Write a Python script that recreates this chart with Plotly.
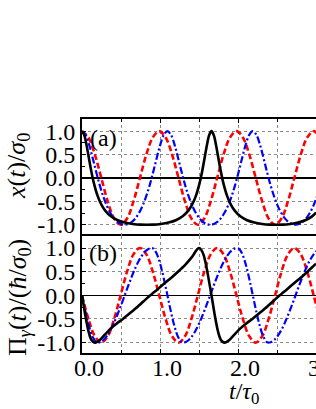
import plotly.graph_objects as go

# ---------------- data ----------------
# red dashed curve (harmonic), own time grid
t_red = [0, 0.0825, 0.165, 0.2475, 0.33, 0.4125, 0.495, 0.5775, 0.66, 0.7425, 0.825, 0.9075,
         0.99, 1.0725, 1.155, 1.2375, 1.32, 1.4025, 1.485, 1.5675, 1.65, 1.7325, 1.815, 1.8975,
         1.98, 2.0625, 2.145, 2.2275, 2.31, 2.3925, 2.475, 2.5575, 2.64, 2.7225, 2.805, 2.8875,
         2.97, 3.0525]
x_red = [1, 0.866, 0.5, 0, -0.5, -0.866, -1, -0.866, -0.5, 0, 0.5, 0.866,
         1, 0.866, 0.5, 0, -0.5, -0.866, -1, -0.866, -0.5, 0, 0.5, 0.866,
         1, 0.866, 0.5, 0, -0.5, -0.866, -1, -0.866, -0.5, 0, 0.5, 0.866,
         1, 0.866]
p_red = [0, -0.5, -0.866, -1, -0.866, -0.5, 0, 0.5, 0.866, 1, 0.866, 0.5,
         0, -0.5, -0.866, -1, -0.866, -0.5, 0, 0.5, 0.866, 1, 0.866, 0.5,
         0, -0.5, -0.866, -1, -0.866, -0.5, 0, 0.5, 0.866, 1, 0.866, 0.5,
         0, -0.5]

# blue dash-dot curve
t_blue = [0, 0.0456, 0.0913, 0.1369, 0.1825, 0.2281, 0.2738, 0.3194, 0.365, 0.4106, 0.4563, 0.5019,
          0.5475, 0.5931, 0.6388, 0.6844, 0.73, 0.7756, 0.8213, 0.8669, 0.9125, 0.9581, 1.0038, 1.0494,
          1.095, 1.1406, 1.1863, 1.2319, 1.2775, 1.3231, 1.3688, 1.4144, 1.46, 1.5056, 1.5513, 1.5969,
          1.6425, 1.6881, 1.7338, 1.7794, 1.825, 1.8706, 1.9163, 1.9619, 2.0075, 2.0531, 2.0988, 2.1444,
          2.19, 2.2356, 2.2813, 2.3269, 2.3725, 2.4181, 2.4638, 2.5094, 2.555, 2.6006, 2.6463, 2.6919,
          2.7375, 2.7831, 2.8288, 2.8744, 2.92, 2.9656, 3.0113]
x_blue = [1, 0.922, 0.713, 0.428, 0.125, -0.158, -0.4, -0.597, -0.75, -0.863, -0.94, -0.985,
          -1, -0.985, -0.94, -0.863, -0.75, -0.597, -0.4, -0.158, 0.125, 0.428, 0.713, 0.922,
          1, 0.922, 0.713, 0.428, 0.125, -0.158, -0.4, -0.597, -0.75, -0.863, -0.94, -0.985,
          -1, -0.985, -0.94, -0.863, -0.75, -0.597, -0.4, -0.158, 0.125, 0.428, 0.713, 0.922,
          1, 0.922, 0.713, 0.428, 0.125, -0.158, -0.4, -0.597, -0.75, -0.863, -0.94, -0.985,
          -1, -0.985, -0.94, -0.863, -0.75, -0.597, -0.4]
p_blue = [0, -0.35, -0.657, -0.88, -0.991, -0.992, -0.945, -0.857, -0.735, -0.581, -0.4, -0.204,
          0, 0.204, 0.4, 0.581, 0.735, 0.857, 0.945, 0.992, 0.991, 0.88, 0.657, 0.35,
          0, -0.35, -0.657, -0.88, -0.991, -0.992, -0.945, -0.857, -0.735, -0.581, -0.4, -0.204,
          0, 0.204, 0.4, 0.581, 0.735, 0.857, 0.945, 0.992, 0.991, 0.88, 0.657, 0.35,
          0, -0.35, -0.657, -0.88, -0.991, -0.992, -0.945, -0.857, -0.735, -0.581, -0.4, -0.204,
          0, 0.204, 0.4, 0.581, 0.735, 0.857, 0.945]

# black solid curve, panel (a)
t_black_x = [0, 0.03, 0.06, 0.09, 0.12, 0.15, 0.20, 0.25, 0.30, 0.37, 0.45, 0.55, 0.65, 0.75, 0.83,
             0.91, 1.01, 1.11, 1.21, 1.29, 1.36, 1.41, 1.46, 1.51, 1.54, 1.57, 1.60, 1.63, 1.66,
             1.69, 1.72, 1.75, 1.78, 1.81, 1.86, 1.91, 1.96, 2.03, 2.11, 2.21, 2.31, 2.41, 2.49,
             2.57, 2.67, 2.77, 2.87, 2.95, 3.0]
x_black = [1.0, 0.913, 0.689, 0.41, 0.139, -0.093, -0.382, -0.575, -0.703, -0.82, -0.897, -0.953, -0.982, -0.997, -1.0,
           -0.997, -0.982, -0.953, -0.897, -0.82, -0.703, -0.575, -0.382, -0.093, 0.139, 0.41, 0.689, 0.913, 1.0,
           0.913, 0.689, 0.41, 0.139, -0.093, -0.382, -0.575, -0.703, -0.82, -0.897, -0.953, -0.982, -0.997, -1.0,
           -0.997, -0.982, -0.953, -0.897, -0.82, -0.74]

# black solid curve, panel (b)
t_black_p = [0, 0.02, 0.04, 0.06, 0.08, 0.10, 0.12, 0.14, 0.17, 0.21, 0.25, 0.30, 0.37, 0.45, 0.525,
             0.62, 0.72, 0.82, 0.875, 0.97, 1.07, 1.17, 1.23, 1.32, 1.39, 1.43, 1.46, 1.50,
             1.53, 1.56, 1.58, 1.60, 1.62, 1.64, 1.66, 1.68, 1.70, 1.72, 1.74, 1.76, 1.78, 1.80, 1.83,
             1.87, 1.91, 1.96, 2.03, 2.11, 2.185, 2.28, 2.38, 2.48, 2.535, 2.63, 2.73, 2.83, 2.89, 2.98, 3.0]
p_black = [0, -0.20, -0.40, -0.58, -0.74, -0.86, -0.94, -0.98, -1.0, -0.97, -0.91, -0.82, -0.70, -0.59, -0.5,
           -0.37, -0.23, -0.08, 0, 0.13, 0.27, 0.41, 0.5, 0.64, 0.77, 0.86, 0.94, 1.0,
           0.96, 0.85, 0.72, 0.56, 0.38, 0.19, 0, -0.20, -0.40, -0.58, -0.74, -0.86, -0.94, -0.98, -1.0,
           -0.97, -0.91, -0.82, -0.70, -0.59, -0.5, -0.37, -0.23, -0.08, 0, 0.13, 0.27, 0.41, 0.5, 0.64, 0.67]

y_tickvals = [-1.0, -0.5, 0.0, 0.5, 1.0]
y_ticktext = ["-1.0", "-0.5", "0.0", "0.5", "1.0"]
x_tickvals = [0, 1, 2, 3]
x_ticktext = ["0.0", "1.0", "2.0", "3.0"]

# ---------------- figure ----------------
W, H = 316, 409
ML, MR, MT, MB = 82, 0, 119, 56
PW, PH = W - ML - MR, H - MT - MB
FONT = "Liberation Serif, Times New Roman, serif"
FS_TICK = 24
FS_TITLE = 26

def px(xp):
    return (xp - ML) / PW

def py(yp):
    return 1 - (yp - MT) / PH

RED = "#ff0000"
BLUE = "#0000ff"
BLACK = "#000000"
GRIDC = "#8a8a8a"

fig = go.Figure()
# panel (a): xaxis2 / yaxis2
fig.add_trace(go.Scatter(x=t_red, y=x_red, mode="lines", xaxis="x2", yaxis="y2",
                         line=dict(color=RED, width=2.6, dash="6px,3px", shape="spline", smoothing=1)))
fig.add_trace(go.Scatter(x=t_blue, y=x_blue, mode="lines", xaxis="x2", yaxis="y2",
                         line=dict(color=BLUE, width=2.2, dash="7px,2.5px,2px,2.5px", shape="spline", smoothing=1)))
fig.add_trace(go.Scatter(x=t_black_x, y=x_black, mode="lines", xaxis="x2", yaxis="y2",
                         line=dict(color=BLACK, width=2.6, shape="spline", smoothing=0.8)))
# panel (b): xaxis / yaxis
fig.add_trace(go.Scatter(x=t_red, y=p_red, mode="lines", xaxis="x", yaxis="y",
                         line=dict(color=RED, width=2.6, dash="6px,3px", shape="spline", smoothing=1)))
fig.add_trace(go.Scatter(x=t_blue, y=p_blue, mode="lines", xaxis="x", yaxis="y",
                         line=dict(color=BLUE, width=2.2, dash="7px,2.5px,2px,2.5px", shape="spline", smoothing=1)))
fig.add_trace(go.Scatter(x=t_black_p, y=p_black, mode="lines", xaxis="x", yaxis="y",
                         line=dict(color=BLACK, width=2.6, shape="spline", smoothing=0.6)))

xcommon = dict(range=[0, 3.0], tickvals=x_tickvals, ticktext=x_ticktext, automargin=False,
               ticks="inside", ticklen=4, tickcolor=BLACK, tickwidth=1,
               showline=True, linecolor=BLACK, linewidth=2, zeroline=False,
               showgrid=True, gridcolor=GRIDC, griddash="dot", gridwidth=1,
               minor=dict(dtick=0.5, tick0=0, ticks="inside", ticklen=3, tickcolor=BLACK,
                          showgrid=True, gridcolor=GRIDC, griddash="dot", gridwidth=1),
               tickfont=dict(family=FONT, size=FS_TICK, color=BLACK))
ycommon = dict(tickvals=y_tickvals, ticktext=y_ticktext, automargin=False,
               ticks="inside", ticklen=4, tickcolor=BLACK, tickwidth=1,
               showline=True, linecolor=BLACK, linewidth=2, mirror=False,
               showgrid=True, gridcolor=GRIDC, griddash="dot", gridwidth=1,
               zeroline=True, zerolinecolor=BLACK, zerolinewidth=1.5,
               minor=dict(dtick=0.25, tick0=0, ticks="inside", ticklen=3, tickcolor=BLACK, showgrid=False),
               tickfont=dict(family=FONT, size=FS_TICK, color=BLACK))

fig.update_layout(
    template="none",
    width=W, height=H, autosize=False,
    margin=dict(l=ML, r=MR, t=MT, b=MB, pad=0),
    paper_bgcolor="white", plot_bgcolor="white",
    showlegend=False, hovermode=False,
    xaxis=dict(anchor="y", domain=[0, 1], mirror=True, ticklabelshift=7, ticklabelstandoff=-8,
               ticklabeloverflow="allow", **xcommon),
    yaxis=dict(anchor="x", domain=[0, 0.5], range=[-1.22, 1.255], **ycommon),
    xaxis2=dict(anchor="y2", domain=[0, 1], matches="x", side="top", mirror=False,
                showticklabels=False, **xcommon),
    yaxis2=dict(anchor="x2", domain=[0.5, 1], range=[-1.24, 1.26], **ycommon),
)

title_font = dict(family=FONT, size=FS_TITLE, color=BLACK)
label_font = dict(family=FONT, size=FS_TICK, color=BLACK)
fig.add_annotation(text="<i>x</i>(<i>t</i>)/<i>σ</i><sub>0</sub>", textangle=-90,
                   x=px(18), y=py(166), xref="paper", yref="paper", showarrow=False,
                   xanchor="center", yanchor="middle", font=title_font)
fig.add_annotation(text="Π<sub><i>γ</i></sub>(<i>t</i>)/(<i>ħ</i>/<i>σ</i><sub>0</sub>)", textangle=-90,
                   x=px(19), y=py(298), xref="paper", yref="paper", showarrow=False,
                   xanchor="center", yanchor="middle", font=title_font)
fig.add_annotation(text="<i>t</i>/<i>τ</i><sub>0</sub>",
                   x=px(244), y=py(393), xref="paper", yref="paper", showarrow=False,
                   xanchor="center", yanchor="middle", font=label_font)
fig.add_annotation(text="(a)", x=px(103.5), y=py(138), xref="paper", yref="paper", showarrow=False,
                   xanchor="center", yanchor="middle", font=label_font)
fig.add_annotation(text="(b)", x=px(102.5), y=py(253), xref="paper", yref="paper", showarrow=False,
                   xanchor="center", yanchor="middle", font=label_font)

fig.write_html("out.html", config={"displayModeBar": False, "staticPlot": True},
               post_script="document.body.style.margin='0px';")
